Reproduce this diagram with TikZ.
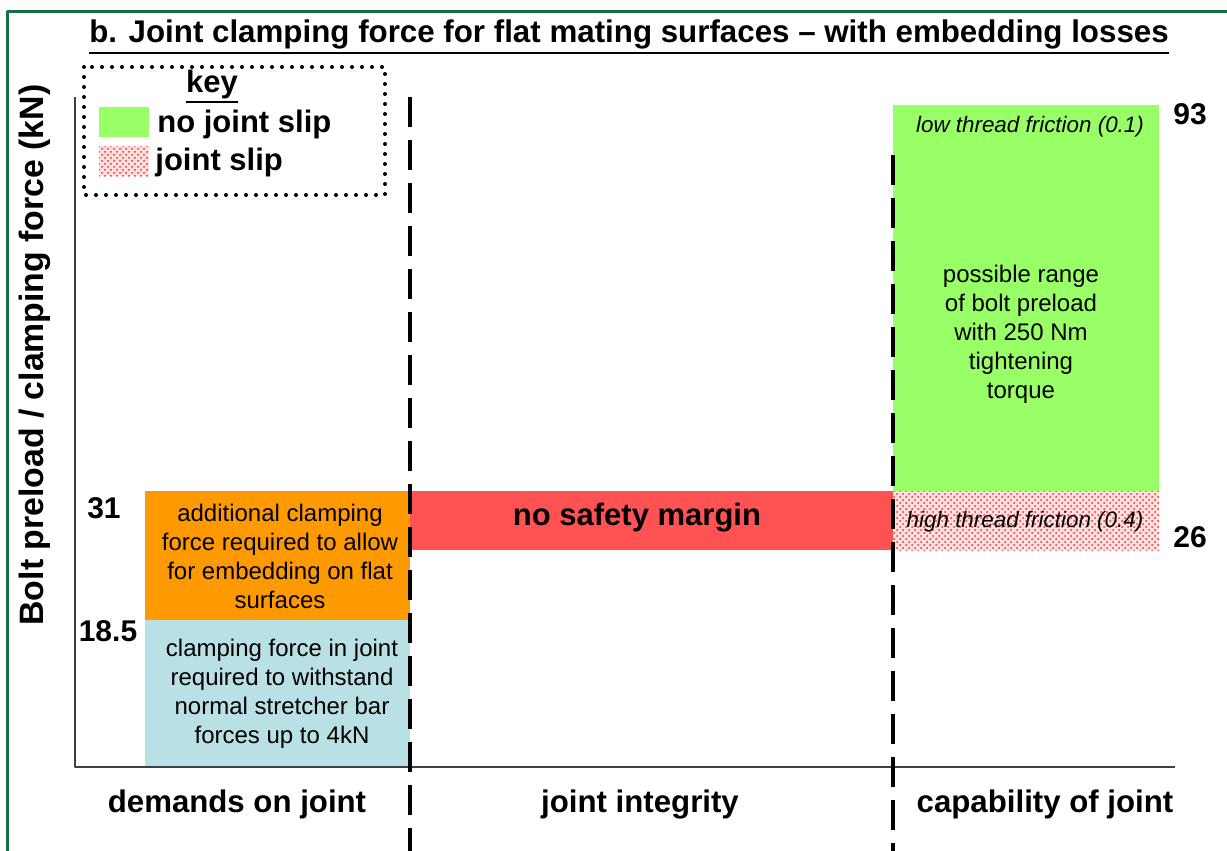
\documentclass[tikz,border=0pt]{standalone}
\usepackage{fontspec}
\setmainfont{Liberation Sans}
\usepackage{tikz}
\usetikzlibrary{patterns}

\definecolor{framegreen}{RGB}{22,112,66}
\definecolor{okgreen}{RGB}{153,255,102}
\definecolor{addorange}{RGB}{255,153,0}
\definecolor{marginred}{RGB}{255,82,82}
\definecolor{jointblue}{RGB}{185,224,228}

\tikzset{
  boxtext/.style={align=center,font=\fontsize{12}{14.5}\selectfont},
  bigtext/.style={font=\fontsize{15.5}{18}\bfseries},
  valtext/.style={font=\fontsize{15}{18}\bfseries},
  sectext/.style={font=\fontsize{15.6}{18}\bfseries},
  ittext/.style={font=\fontsize{11.2}{13}\itshape},
  divider/.style={line width=1.7pt,dash pattern=on 15pt off 6.5pt},
  slipfill/.style={pattern=crosshatch dots,pattern color=red!85}
}

\begin{document}
\begin{tikzpicture}[line cap=butt,line join=round,x=0.5pt,y=-0.5pt]

\useasboundingbox (0,0) rectangle (1227,851);
\fill[white] (0,0) rectangle (1227,851);

% frame
\draw[framegreen,line width=1.5pt] (7,851) -- (7,11) -- (1227,11);

% title
\node[inner sep=0pt,font=\fontsize{15.65}{18}\bfseries] (title) at (629,34) {b. Joint clamping force for flat mating surfaces -- with embedding losses};
\draw[line width=1.1pt] ([yshift=-1.8pt]title.south west) -- ([yshift=-1.8pt]title.south east);

% bars
\fill[jointblue] (145,620) rectangle (410,767);
\fill[addorange] (145,491) rectangle (410,620);
\fill[marginred] (410,491) rectangle (893,550);
\fill[okgreen] (893,105) rectangle (1159,491);
\fill[red!12] (893,491) rectangle (1159,550);
\fill[slipfill] (893,491) rectangle (1159,550);

% axes
\draw[black!75,line width=0.8pt] (75,97) -- (75,767) -- (1175,767);

% dividers
\draw[divider] (410,97) -- (410,851);
\draw[divider] (893,155) -- (893,851);

% key
\draw[line width=2pt,line cap=round,dash pattern=on 0pt off 5pt] (84,67) rectangle (385,195);
\node[inner sep=0pt,bigtext] (keyhead) at (212,84) {key};
\draw[line width=1pt] ([yshift=-1.5pt]keyhead.south west) -- ([yshift=-1.5pt]keyhead.south east);
\fill[okgreen] (99,107) rectangle (149,137);
\fill[red!12] (99,146) rectangle (149,176);
\fill[slipfill] (99,146) rectangle (149,176);
\node[anchor=west,inner sep=0pt,bigtext] (noslip) at (157,124) {no joint slip};
\node[anchor=west,inner sep=0pt,bigtext] (slip) at (155,162) {joint slip};

% axis label
\node[rotate=90,font=\fontsize{16.9}{20}\bfseries] (ylabel) at (35,355) {Bolt preload / clamping force (kN)};

% values
\node[valtext] (v93) at (1190,114) {93};
\node[valtext] (v26) at (1190,537) {26};
\node[valtext] (v31) at (104,508) {31};
\node[valtext] (v185) at (108,631) {18.5};

% box texts
\node[boxtext] (addtext) at (280,556) {additional clamping\\force required to allow\\for embedding on flat\\surfaces};
\node[boxtext] (jointtext) at (282,694) {clamping force in joint\\required to withstand\\normal stretcher bar\\forces up to 4kN};
\node[font=\fontsize{15.5}{18}\bfseries] (margin) at (637,518) {no safety margin};
\node[ittext] (lowfric) at (1030,127) {low thread friction (0.1)};
\node[ittext] (highfric) at (1025,522) {high thread friction (0.4)};
\node[boxtext] (range) at (1021,334) {possible range\\of bolt preload\\with 250 Nm\\tightening\\torque};

% sections
\node[sectext] (demands) at (237,804) {demands on joint};
\node[sectext] (integrity) at (640,804) {joint integrity};
\node[sectext] (capability) at (1045,804) {capability of joint};
\end{tikzpicture}
\end{document}
